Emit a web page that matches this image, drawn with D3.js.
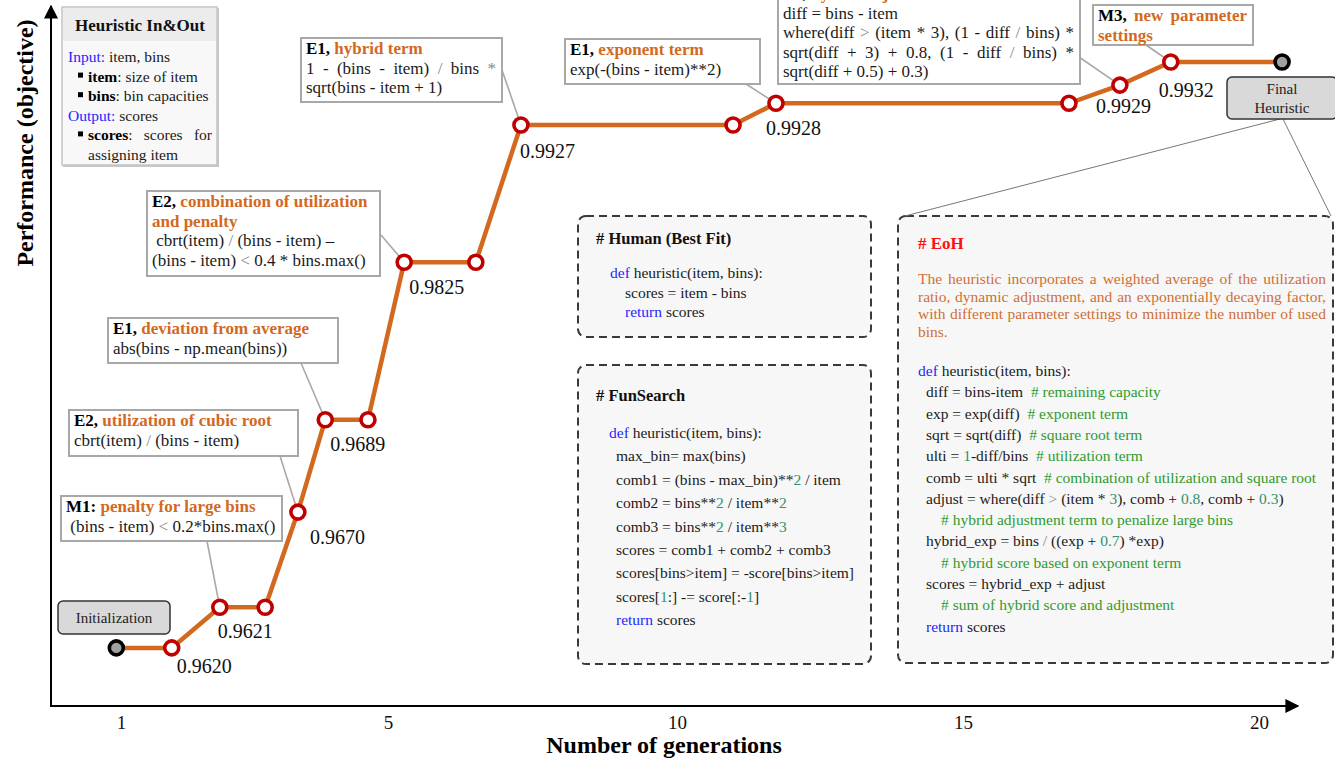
<!DOCTYPE html>
<html><head><meta charset="utf-8">
<script src="https://cdn.jsdelivr.net/npm/d3@7"></script>
<style>
body{margin:0;background:#fff}
svg{display:block;font-family:"Liberation Serif","Times New Roman",serif}
text{white-space:pre}
</style></head><body>
<svg id="c" width="1335" height="760"></svg>
<script>
// ---- data ----
const generations = [0.93, 1.76, 2.48, 3.16, 3.65, 4.06, 4.70, 5.28, 6.52, 7.30, 10.98, 11.73, 16.79, 17.65, 18.51, 20.39];
// schematic height on the (unscaled) performance axis, % of axis length
const levels = [8.3, 8.3, 14.1, 14.1, 27.7, 40.9, 40.9, 63.4, 63.4, 83.0, 83.0, 86.1, 86.1, 88.7, 92.0, 92.0];
const performance = [0.9620, 0.9620, 0.9621, 0.9621, 0.9670, 0.9689, 0.9689, 0.9825, 0.9825, 0.9927, 0.9927, 0.9928, 0.9928, 0.9929, 0.9932, 0.9932];
const pointKinds = ["init","step","step","step","step","step","step","step","step","step","step","step","step","step","step","final"];
const xTicks = [1, 5, 10, 15, 20];
const xTickPositions = [121, 388, 677, 963, 1259];

// layout: value-label offsets (dx, dy) from their point
const labelOffsets = {1:[5,25], 2:[-2,31], 4:[12,32], 5:[5,31], 7:[5,32], 9:[-1,33], 11:[-10,32], 13:[-24,28], 14:[-12,35]};

const svg = d3.select("#c");
const C = {orange:"#d2691e", ring:"#c00000", lead:"#a8a8a8"};
const ST = {
  b:{weight:"bold", fill:"#000"},
  o:{weight:"bold", fill:"#d2691e"},
  g:{fill:"#8a8a8a"},
  kw:{fill:"#1f1fff"},
  num:{fill:"#2f9170"},
  cm:{fill:"#2f9a2f"},
  desc:{fill:"#cf6f35"},
  red:{fill:"#ff1010", weight:"bold"}
};
function styleT(ts, st){ const s = ST[st]||{}; ts.attr("fill", s.fill||"#1a1a1a").attr("font-weight", s.weight||"normal"); }
function renderLine(parent, x, y, segs, size, justifyWidth){
  const t = parent.append("text").attr("x", x).attr("y", y).attr("font-size", size);
  if(!justifyWidth){ segs.forEach(([txt,st]) => styleT(t.append("tspan").text(txt), st)); return t; }
  const words=[]; let cur=null;
  segs.forEach(([txt,st]) => { txt.split(" ").forEach((p,k)=>{ if(k>0) cur=null; if(!p) return; if(!cur){cur=[];words.push(cur);} cur.push([p,st]); }); });
  const nodes = words.map(w => w.map(([p,st]) => { const ts=t.append("tspan").text(p); styleT(ts,st); return ts; }));
  const widths = nodes.map(ns => d3.sum(ns, n => n.node().getComputedTextLength()));
  const gap = (justifyWidth - d3.sum(widths)) / Math.max(1, words.length-1);
  let cx = x;
  nodes.forEach((ns,i)=>{ ns[0].attr("x", cx); cx += widths[i] + gap; });
  return t;
}

// ---- scales ----
const x = d3.scaleLinear().domain(xTicks).range(xTickPositions);
const y = d3.scaleLinear().domain([0, 100]).range([706, 6]);
const pts = generations.map((g,i)=>({x:x(g), y:y(levels[i]), v:performance[i], k:pointKinds[i], i}));

// ---- axes ----
svg.append("defs").append("marker").attr("id","arr").attr("viewBox","0 0 10 10").attr("refX",9).attr("refY",5)
  .attr("markerWidth",7).attr("markerHeight",7).attr("orient","auto")
  .append("path").attr("d","M0,0 L10,5 L0,10 z").attr("fill","#000");
svg.append("line").attr("x1",51).attr("y1",706).attr("x2",51).attr("y2",6).attr("stroke","#000").attr("stroke-width",2).attr("marker-end","url(#arr)");
svg.append("line").attr("x1",50).attr("y1",706).attr("x2",1298).attr("y2",706).attr("stroke","#000").attr("stroke-width",2).attr("marker-end","url(#arr)");
const xa = svg.append("g").attr("transform","translate(0,706)")
  .call(d3.axisBottom(x).tickValues(xTicks).tickSize(0).tickPadding(10).tickFormat(d3.format("d")));
xa.select(".domain").remove();
xa.selectAll("text").attr("font-size",19).attr("font-family","Liberation Serif").attr("fill","#111");
svg.append("text").attr("x",664).attr("y",753).attr("text-anchor","middle").attr("font-size",24).attr("font-weight","bold").text("Number of generations");
svg.append("text").attr("transform","translate(33,143) rotate(-90)").attr("text-anchor","middle").attr("font-size",24).attr("font-weight","bold").text("Performance (objective)");

// ---- code boxes ----
function dashedBox(x0,y0,w,h){
  svg.append("rect").attr("x",x0).attr("y",y0).attr("width",w).attr("height",h).attr("rx",8)
    .attr("fill","#f7f7f7").attr("stroke","#3a3a3a").attr("stroke-width",2).attr("stroke-dasharray","8,5");
}
dashedBox(578,216,293,121);
dashedBox(578,365,293,299);
dashedBox(898,216,435,447);

const CODE = 15.5;
const humanLines = [
  {x:610, s:[["def","kw"],[" heuristic(item, bins):"]]},
  {x:625, s:[["scores = item - bins"]]},
  {x:625, s:[["return","kw"],[" scores"]]}
];
svg.append("text").attr("x",596).attr("y",244).attr("font-size",16.5).attr("font-weight","bold").attr("fill","#111").text("# Human (Best Fit)");
humanLines.forEach((l,i)=>renderLine(svg,l.x,278+i*19.5,l.s,CODE));

const funLines = [
  {x:609, s:[["def","kw"],[" heuristic(item, bins):"]]},
  {x:616, s:[["max_bin= max(bins)"]]},
  {x:616, s:[["comb1 = (bins - max_bin)**"],["2","num"],[" / item"]]},
  {x:616, s:[["comb2 = bins**"],["2","num"],[" / item**"],["2","num"]]},
  {x:616, s:[["comb3 = bins**"],["2","num"],[" / item**"],["3","num"]]},
  {x:616, s:[["scores = comb1 + comb2 + comb3"]]},
  {x:616, s:[["scores[bins>item] = -score[bins>item]"]]},
  {x:616, s:[["scores["],["1","num"],[":] -= score[:-"],["1","num"],["]"]]},
  {x:616, s:[["return","kw"],[" scores"]]}
];
svg.append("text").attr("x",596).attr("y",401).attr("font-size",16.5).attr("font-weight","bold").attr("fill","#111").text("# FunSearch");
funLines.forEach((l,i)=>renderLine(svg,l.x,438+i*23.4,l.s,CODE));

svg.append("text").attr("x",918).attr("y",249).attr("font-size",17).attr("font-weight","bold").attr("fill","#ff1010").text("# EoH");
const eohDesc = [
  "The heuristic incorporates a weighted average of the utilization",
  "ratio, dynamic adjustment, and an exponentially decaying factor,",
  "with different parameter settings to minimize the number of used",
  "bins."
];
eohDesc.forEach((d,i)=>renderLine(svg,918,284+i*17.6,[[d,"desc"]],15.5, i<3?408:null));
const eohLines = [
  {x:918, s:[["def","kw"],[" heuristic(item, bins):"]]},
  {x:926, s:[["diff = bins-item  "],["# remaining capacity","cm"]]},
  {x:926, s:[["exp = exp(diff)  "],["# exponent term","cm"]]},
  {x:926, s:[["sqrt = sqrt(diff)  "],["# square root term","cm"]]},
  {x:926, s:[["ulti = "],["1","num"],["-diff/bins  "],["# utilization term","cm"]]},
  {x:926, s:[["comb = ulti * sqrt  "],["# combination of utilization and square root","cm"]]},
  {x:926, s:[["adjust = where(diff "],[">","g"],[" (item * "],["3","num"],["), comb + "],["0.8","num"],[", comb + "],["0.3","num"],[")"]]},
  {x:941, s:[["# hybrid adjustment term to penalize large bins","cm"]]},
  {x:926, s:[["hybrid_exp = bins "],["/","g"],[" ((exp + "],["0.7","num"],[") *exp)"]]},
  {x:941, s:[["# hybrid score based on exponent term","cm"]]},
  {x:926, s:[["scores = hybrid_exp + adjust"]]},
  {x:941, s:[["# sum of hybrid score and adjustment","cm"]]},
  {x:926, s:[["return","kw"],[" scores"]]}
];
eohLines.forEach((l,i)=>renderLine(svg,l.x,376+i*21.3,l.s,CODE));

// ---- Final heuristic callout lines ----
svg.append("line").attr("x1",1280).attr("y1",119).attr("x2",905).attr("y2",216).attr("stroke","#777").attr("stroke-width",1);
svg.append("line").attr("x1",1283).attr("y1",119).attr("x2",1331).attr("y2",216).attr("stroke","#777").attr("stroke-width",1);

// ---- annotations ----
const annotations = [
  {target:2, box:[61,496,221,45], from:[207,541], lines:[
    {s:[["M1: ","b"],["penalty for large bins","o"]]},
    {s:[[" (bins - item) "],["<","g"],[" 0.2*bins.max()"]]}]},
  {target:4, box:[69,410,229,46], from:[280,456], lines:[
    {s:[["E2, ","b"],["utilization of cubic root","o"]]},
    {s:[["cbrt(item) "],["/","g"],[" (bins - item)"]]}]},
  {target:5, box:[108,318,230,45], from:[301,363], lines:[
    {s:[["E1, ","b"],["deviation from average","o"]]},
    {s:[["abs(bins - np.mean(bins))"]]}]},
  {target:7, box:[147,191,233,85], from:[381,235], lines:[
    {s:[["E2, ","b"],["combination of utilization","o"]]},
    {s:[["and penalty","o"]]},
    {s:[[" cbrt(item) "],["/","g"],[" (bins - item) –"]]},
    {s:[["(bins - item) "],["<","g"],[" 0.4 * bins.max()"]]}]},
  {target:9, box:[301,38,201,64], from:[502,70], lines:[
    {s:[["E1, ","b"],["hybrid term","o"]]},
    {s:[["1 - (bins - item) "],["/","g"],[" bins "],["*","g"]], j:true},
    {s:[["sqrt(bins - item + 1)"]]}]},
  {target:11, box:[565,39,195,45], from:[746,84], lines:[
    {s:[["E1, ","b"],["exponent term","o"]]},
    {s:[["exp(-(bins - item)**2)"]]}]},
  {target:13, box:[778,-17,302,101], from:[1079,57], lines:[
    {s:[["E1, ","b"],["hybrid adjustment term","o"]]},
    {s:[["diff = bins - item"]]},
    {s:[["where(diff "],[">","g"],[" (item * 3), (1 - diff "],["/","g"],[" bins) *"]], j:true},
    {s:[["sqrt(diff + 3) + 0.8, (1 - diff "],["/","g"],[" bins) *"]], j:true},
    {s:[["sqrt(diff + 0.5) + 0.3)"]]}]},
  {target:14, box:[1093,5,160,40], from:[1146,45], lines:[
    {s:[["M3, ","b"],["new parameter","o"]], j:true},
    {s:[["settings","o"]]}]}
];
const gLead = svg.append("g");
annotations.forEach(a=>{
  gLead.append("line").attr("x1",a.from[0]).attr("y1",a.from[1]).attr("x2",pts[a.target].x).attr("y2",pts[a.target].y)
    .attr("stroke",C.lead).attr("stroke-width",1.6);
});

// ---- main line & points ----
svg.append("path").datum(pts).attr("fill","none").attr("stroke",C.orange).attr("stroke-width",4.5)
  .attr("d", d3.line().x(d=>d.x).y(d=>d.y));
svg.selectAll("circle.pt").data(pts).join("circle").attr("class","pt")
  .attr("cx",d=>d.x).attr("cy",d=>d.y).attr("r",7)
  .attr("fill",d=>d.k==="step"?"#fff":"#a0a0a0")
  .attr("stroke",d=>d.k==="step"?C.ring:"#000").attr("stroke-width",3.6);
const labelled = pts.filter((d,i)=>d.k==="step" && (pts[i-1].k==="init" || d.v!==pts[i-1].v));
svg.selectAll("text.val").data(labelled).join("text").attr("class","val")
  .attr("x",d=>d.x+(labelOffsets[d.i]||[4,31])[0]).attr("y",d=>d.y+(labelOffsets[d.i]||[4,31])[1])
  .attr("font-size",20).attr("fill","#111")
  .text(d=>d3.format(".4f")(d.v));

// ---- annotation boxes ----
annotations.forEach(a=>{
  const [bx,by,bw,bh]=a.box;
  const g = svg.append("g");
  g.append("rect").attr("x",bx).attr("y",by).attr("width",bw).attr("height",bh).attr("fill","#fff").attr("stroke","#a8a8a8").attr("stroke-width",2);
  a.lines.forEach((l,i)=>renderLine(g,bx+5,by+16+i*19.5,l.s,17,l.j?bw-11:null));
});

// ---- In & Out box ----
const io = svg.append("g");
io.append("rect").attr("x",63).attr("y",8).attr("width",156).attr("height",159).attr("fill","#c8c8c8");
io.append("rect").attr("x",62).attr("y",7).attr("width",155).attr("height",158).attr("fill","#f8f8f8").attr("stroke","#c4c4c4").attr("stroke-width",1.5);
io.append("rect").attr("x",63).attr("y",8).attr("width",153).attr("height",33).attr("fill","#ececec");
io.append("text").attr("x",140).attr("y",31).attr("text-anchor","middle").attr("font-size",17).attr("font-weight","bold").attr("fill","#111").text("Heuristic In&Out");
const ioLines = [
  {x:68, s:[["Input: ","kw"],["item, bins"]]},
  {x:88, s:[["item","b"],[": size of item"]], bullet:true},
  {x:88, s:[["bins","b"],[": bin capacities"]], bullet:true},
  {x:68, s:[["Output: ","kw"],["scores"]]},
  {x:88, s:[["scores","b"],[": scores for"]], bullet:true, j:124},
  {x:88, s:[["assigning item"]]}
];
ioLines.forEach((l,i)=>{
  const yy = 62+i*19.6;
  if(l.bullet) io.append("rect").attr("x",78).attr("y",yy-9).attr("width",5).attr("height",5).attr("fill","#000");
  renderLine(io,l.x,yy,l.s,15.5,l.j||null);
});

// ---- Initialization / Final boxes ----
function greyBox(x0,y0,w,h,lines){
  svg.append("rect").attr("x",x0).attr("y",y0).attr("width",w).attr("height",h).attr("rx",5)
    .attr("fill","#d9d9d9").attr("stroke","#333").attr("stroke-width",1.5);
  lines.forEach((t,i)=>svg.append("text").attr("x",x0+w/2).attr("y",y0+h/2+5+(i-(lines.length-1)/2)*19)
    .attr("text-anchor","middle").attr("font-size",15).attr("fill","#222").text(t));
}
greyBox(58,601,112,33,["Initialization"]);
greyBox(1227,77,110,42,["Final","Heuristic"]);
</script>
</body></html>
